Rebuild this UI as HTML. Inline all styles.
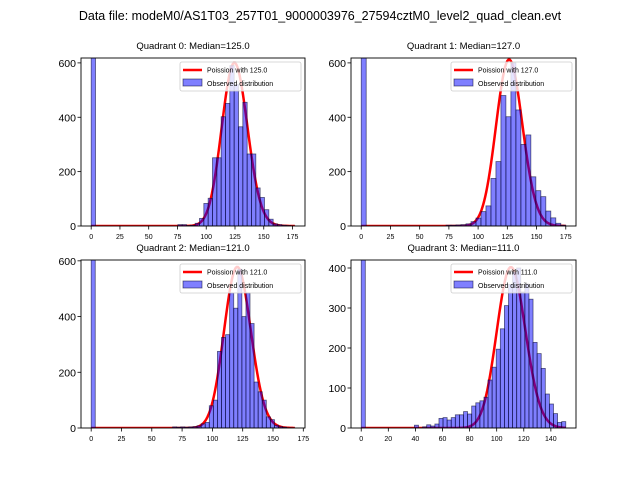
<!DOCTYPE html>
<html><head><meta charset="utf-8"><style>
html,body{margin:0;padding:0;background:#fff;}
svg text{font-family:"Liberation Sans","DejaVu Sans",sans-serif;fill:#000;}
</style></head><body>
<svg id="chart" width="640" height="480" viewBox="0 0 640 480" xmlns="http://www.w3.org/2000/svg">
<rect width="640" height="480" fill="#fff"/>
<text x="320" y="20" font-size="12.5" text-anchor="middle">Data file: modeM0/AS1T03_257T01_9000003976_27594cztM0_level2_quad_clean.evt</text>
</svg>
<script>
// ---- data ----
const quadrantNames = ["Quadrant 0","Quadrant 1","Quadrant 2","Quadrant 3"];
const medians = [125.0, 127.0, 121.0, 111.0];
const maxValues = [177, 175, 168, 151];
const poissonPeaks = [600, 612, 578, 402];
const yLimits = [618, 618, 603, 420];
const yTicks0 = [0,200,400,600];
const yTicks3 = [0,100,200,300,400];
const xTicks0 = [0,25,50,75,100,125,150,175];
const xTicks3 = [0,20,40,60,80,100,120,140];
const counts0 = [2000,0,0,0,0,0,0,0,0,0,0,0,0,0,0,0,0,0,0,0,5,5,2,3,10,28,83,102,251,251,402,451,590,520,365,455,265,265,140,105,60,25,8,5,3,2,1];
const counts1 = [2000,0,0,0,0,0,0,0,0,0,0,0,0,0,0,0,0,3,3,4,5,8,16,29,53,74,175,237,480,402,600,427,300,335,181,130,108,55,30,10,3];
const counts2 = [2000,0,0,0,0,0,0,0,0,0,0,0,0,0,0,0,0,0,0,0,4,3,4,3,4,5,8,15,20,80,100,275,325,335,485,430,570,400,485,375,165,130,100,40,30,10,5,3,1,1];
const counts3 = [2000,0,0,0,0,0,0,0,0,0,0,0,0,7,0,3,8,5,10,24,26,20,26,33,33,41,35,55,63,68,77,120,152,197,248,306,359,390,400,340,360,322,214,186,149,85,60,36,14,16];

const panels = [
 {counts:counts0, yt:yTicks0, xt:xTicks0, l:81, r:305, t:58, b:226},
 {counts:counts1, yt:yTicks0, xt:xTicks0, l:351, r:576, t:58, b:226},
 {counts:counts2, yt:yTicks0, xt:xTicks0, l:81, r:305, t:260, b:428},
 {counts:counts3, yt:yTicks3, xt:xTicks3, l:351, r:576, t:260, b:428}
];
const svg = document.getElementById('chart');
const NS = "http://www.w3.org/2000/svg";
function mk(tag, attrs, parent){const e=document.createElementNS(NS,tag);for(const k in attrs)e.setAttribute(k,attrs[k]);(parent||svg).appendChild(e);return e;}
function lgamma(x){ if(x<1) return 0;
  return (x-0.5)*Math.log(x)-x+0.5*Math.log(2*Math.PI)+1/(12*x)-1/(360*x*x*x);}
function lnPois(k,mu){return k*Math.log(mu)-mu-lgamma(k+1);}

panels.forEach((p,i)=>{
  const g = mk('g',{});
  
  
  const max = maxValues[i], xmin=-0.05*max, xmax=1.05*max;
  const X = v => p.l + (v-xmin)/(xmax-xmin)*(p.r-p.l);
  const Y = v => p.b - Math.min(v, yLimits[i])/yLimits[i]*(p.b-p.t);
  const clipId='clip'+i;
  const cp = mk('clipPath',{id:clipId},g);
  mk('rect',{x:p.l,y:p.t,width:p.r-p.l,height:p.b-p.t},cp);
  const plot = mk('g',{'clip-path':'url(#'+clipId+')'},g);
  const mu = medians[i];
  const modeK = Math.floor(mu);
  const scale = poissonPeaks[i]/Math.exp(lnPois(modeK,mu));
  let d='';
  for(let k=0;k<=max;k++){ const v=scale*Math.exp(lnPois(k,mu)); d+=(k?'L':'M')+X(k).toFixed(2)+' '+Y(v).toFixed(2);}
  const line = mk('path',{d:d,fill:'none',stroke:'#ff0000','stroke-width':2.5},plot);
  
  
  const bw = max/p.counts.length;
  p.counts.forEach((c,j)=>{
    if(c<=0) return;
    const x0=X(j*bw), x1=X((j+1)*bw);
    const r = mk('rect',{x:x0,y:Y(c),width:x1-x0,height:p.b-Y(c),fill:'rgba(0,0,255,0.5)',stroke:'rgba(0,0,40,0.6)','stroke-width':0.8},plot);
    
    
  });
  mk('rect',{x:p.l,y:p.t,width:p.r-p.l,height:p.b-p.t,fill:'none',stroke:'#000','stroke-width':0.9},g);
  p.yt.forEach(v=>{
    const y=Y(v);
    mk('line',{x1:p.l-3.5,x2:p.l,y1:y,y2:y,stroke:'#000','stroke-width':0.8},g);
    const t=mk('text',{x:p.l-5,y:y+4,'font-size':10.5,'text-anchor':'end'},g);
    t.textContent=v;
    
    
  });
  p.xt.forEach(v=>{
    const x=X(v);
    mk('line',{x1:x,x2:x,y1:p.b,y2:p.b+3.5,stroke:'#000','stroke-width':0.8},g);
    const t=mk('text',{x:x,y:p.b+13,'font-size':7,'text-anchor':'middle'},g);
    t.textContent=v;
    
    
  });
  const tt=mk('text',{x:(p.l+p.r)/2,y:p.t-9,'font-size':9.5,'text-anchor':'middle'},g);
  tt.textContent=quadrantNames[i]+': Median='+medians[i].toFixed(1);
  
  
  const lg=mk('g',{},g);
  
  
  const lx=p.r-125, ly=p.t+4;
  mk('rect',{x:lx,y:ly,width:121,height:29,fill:'#fff','fill-opacity':0.8,stroke:'#ccc','stroke-width':0.8,rx:2},lg);
  mk('line',{x1:lx+3,x2:lx+22,y1:ly+8,y2:ly+8,stroke:'#ff0000','stroke-width':2.5},lg);
  const t1=mk('text',{x:lx+27,y:ly+10.5,'font-size':7},lg);
  t1.textContent='Poission with '+medians[i].toFixed(1);
  
  
  mk('rect',{x:lx+3,y:ly+17,width:19,height:7,fill:'rgba(0,0,255,0.5)',stroke:'rgba(0,0,40,0.6)','stroke-width':0.8},lg);
  const t2=mk('text',{x:lx+27,y:ly+24,'font-size':7},lg);
  t2.textContent='Observed distribution';
  
  
});
</script>
</body></html>
